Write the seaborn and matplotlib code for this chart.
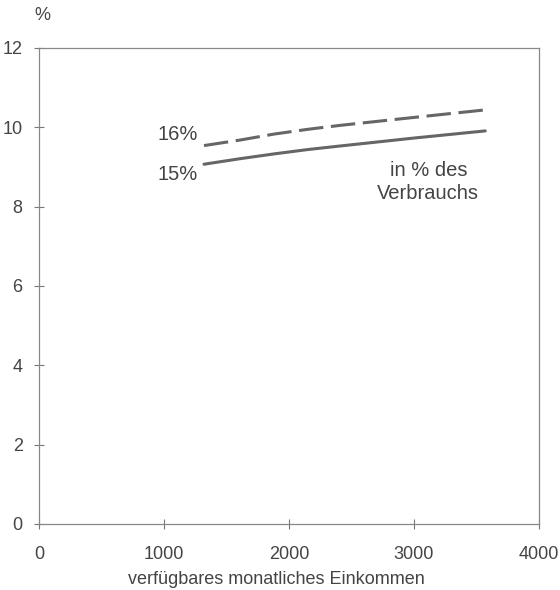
import matplotlib
matplotlib.use("Agg")
import matplotlib.pyplot as plt
import seaborn as sns
import pandas as pd

income = [1320, 1610, 1880, 2150, 2410, 3000, 3570]
share_15 = [9.07, 9.21, 9.33, 9.44, 9.53, 9.73, 9.91]
share_16 = [9.54, 9.68, 9.83, 9.95, 10.05, 10.25, 10.44]
xticks = [0, 1000, 2000, 3000, 4000]
yticks = [0, 2, 4, 6, 8, 10, 12]

df = pd.DataFrame({
    "income": income * 2,
    "share": share_15 + share_16,
    "rate": ["15%"] * len(income) + ["16%"] * len(income),
})

sns.set_theme(style="white")
plt.rcParams["font.family"] = ["Liberation Sans", "DejaVu Sans"]

fig = plt.figure(figsize=(5.6, 5.9), dpi=100)
ax = fig.add_axes([39 / 560, 1 - 524 / 590, (539 - 39) / 560, (524 - 48) / 590])

line_col = "#666666"
sns.lineplot(data=df, x="income", y="share", style="rate",
             style_order=["15%", "16%"],
             dashes={"15%": "", "16%": (8, 2.5)},
             color=line_col, linewidth=2.2, legend=False, ax=ax)

ax.set_xlim(0, 4000)
ax.set_ylim(0, 12)
ax.set_xticks(xticks)
ax.set_yticks(yticks)
ax.set_xticklabels([str(t) for t in xticks])
ax.set_yticklabels([str(t) for t in yticks])
ax.tick_params(direction="inout", length=7.5, width=0.8, color="#777777",
               labelsize=13, labelcolor="#444444", pad=8, bottom=True, left=True)
ax.tick_params(axis="x", pad=12)
for s in ax.spines.values():
    s.set_color("#888888")
    s.set_linewidth(0.9)

ax.set_xlabel("verfügbares monatliches Einkommen", fontsize=13, color="#444444")
ax.xaxis.set_label_coords((276 - 39) / 500, 1 - (580 - 48) / 476)
ax.xaxis.label.set_va("center")
ax.set_ylabel("")
fig.text(42 / 560, 1 - 16 / 590, "%", fontsize=13, color="#444444", ha="center", va="center")

txt = dict(fontsize=14.5, color="#444444")
ax.text(1270, 9.83, "16%", ha="right", va="center", **txt)
ax.text(1270, 8.82, "15%", ha="right", va="center", **txt)
ax.text(3114, 8.92, "in % des", ha="center", va="center", **txt)
ax.text(3114, 8.34, "Verbrauchs", ha="center", va="center", **txt)

fig.savefig("out.png", dpi=100)
